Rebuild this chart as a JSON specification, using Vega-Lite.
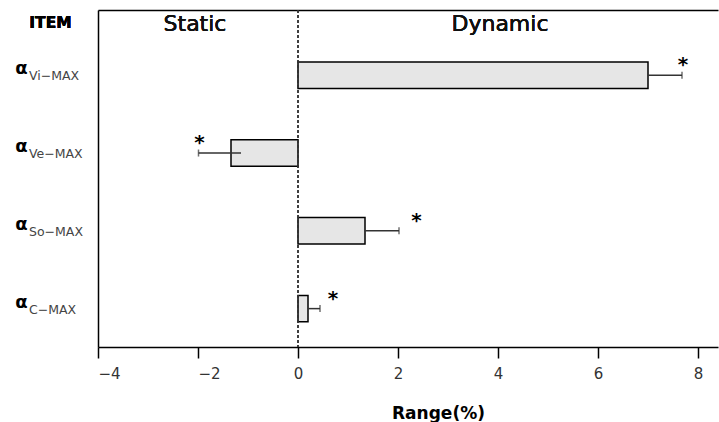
{
  "$schema": "https://vega.github.io/schema/vega-lite/v6.json",
  "width": 620,
  "height": 337,
  "autosize": {"type": "none"},
  "padding": {"left": 98, "top": 10, "right": 1, "bottom": 75},
  "background": "white",
  "config": {"view": {"stroke": null}, "font": "DejaVu Sans"},
  "data": {
    "values": [
      {"item": "Vi-MAX", "sym": "α", "sub": "Vi−MAX", "value": 7.0, "errStart": 7.0, "errEnd": 7.68, "star": 7.7},
      {"item": "Ve-MAX", "sym": "α", "sub": "Ve−MAX", "value": -1.34, "errStart": -1.14, "errEnd": -1.99, "star": -1.97},
      {"item": "So-MAX", "sym": "α", "sub": "So−MAX", "value": 1.34, "errStart": 1.34, "errEnd": 2.02, "star": 2.37},
      {"item": "C-MAX", "sym": "α", "sub": "C−MAX", "value": 0.2, "errStart": 0.2, "errEnd": 0.44, "star": 0.7}
    ]
  },
  "layer": [
    {
      "layer": [
        {
          "mark": {"type": "bar", "fill": "#e6e6e6", "stroke": "black", "strokeWidth": 1.5},
          "encoding": {
            "x": {
              "field": "value", "type": "quantitative",
              "scale": {"domain": [-4, 8.4], "nice": false, "zero": false},
              "axis": {
                "orient": "bottom",
                "values": [-4, -2, 0, 2, 4, 6, 8],
                "grid": false,
                "domainColor": "black", "domainWidth": 1.5,
                "tickColor": "black", "tickWidth": 1.5, "tickSize": 11,
                "labelFont": "DejaVu Sans", "labelFontSize": 15, "labelColor": "#333",
                "labelPadding": 8,
                "labelAlign": {"condition": {"test": "datum.value < 0", "value": "left"}, "value": "center"},
                "title": "Range(%)",
                "titleFont": "DejaVu Sans", "titleFontSize": 17, "titleFontWeight": "bold", "titleColor": "black",
                "titleX": 340, "titleY": 71, "titleAlign": "center", "titleBaseline": "alphabetic"
              }
            },
            "x2": {"datum": 0},
            "y": {
              "field": "item", "type": "nominal", "sort": null,
              "scale": {"paddingInner": 0.66, "paddingOuter": 0.496, "align": 0.674},
              "axis": {"labels": false, "ticks": false, "title": null, "grid": false, "domainColor": "black", "domainWidth": 1.5}
            }
          }
        },
        {
          "mark": {"type": "rule", "color": "#333", "strokeWidth": 1.5},
          "encoding": {
            "x": {"field": "errStart", "type": "quantitative"},
            "x2": {"field": "errEnd"},
            "y": {"field": "item", "type": "nominal", "sort": null}
          }
        },
        {
          "mark": {"type": "tick", "color": "#333", "thickness": 1.5, "size": 7, "orient": "vertical"},
          "encoding": {
            "x": {"field": "errEnd", "type": "quantitative"},
            "y": {"field": "item", "type": "nominal", "sort": null}
          }
        },
        {
          "mark": {"type": "text", "fontSize": 20, "fontWeight": "bold", "color": "black", "baseline": "middle", "align": "center", "dy": -10},
          "encoding": {
            "x": {"field": "star", "type": "quantitative"},
            "y": {"field": "item", "type": "nominal", "sort": null},
            "text": {"value": "*"}
          }
        },
        {
          "mark": {"type": "text", "fontSize": 18, "fontWeight": "bold", "color": "black", "baseline": "alphabetic", "align": "center", "dy": -1},
          "encoding": {
            "x": {"datum": -5.53, "type": "quantitative"},
            "y": {"field": "item", "type": "nominal", "sort": null},
            "text": {"field": "sym"}
          }
        },
        {
          "mark": {"type": "text", "fontSize": 12.5, "color": "#444", "baseline": "alphabetic", "align": "left", "dy": 5},
          "encoding": {
            "x": {"datum": -5.38, "type": "quantitative"},
            "y": {"field": "item", "type": "nominal", "sort": null},
            "text": {"field": "sub"}
          }
        },
        {
          "mark": {"type": "text", "fontSize": 15.5, "fontWeight": "bold", "color": "black", "baseline": "alphabetic", "align": "center", "dy": -47},
          "encoding": {
            "x": {"datum": -4.95, "type": "quantitative"},
            "y": {"datum": "Vi-MAX", "type": "nominal"},
            "text": {"value": "ITEM"}
          }
        },
        {
          "mark": {"type": "text", "fontSize": 22, "color": "#111", "baseline": "alphabetic", "align": "center", "dy": -44},
          "encoding": {
            "x": {"datum": -2.06, "type": "quantitative"},
            "y": {"datum": "Vi-MAX", "type": "nominal"},
            "text": {"value": "Static"}
          }
        },
        {
          "mark": {"type": "text", "fontSize": 22, "color": "#111", "baseline": "alphabetic", "align": "center", "dy": -44},
          "encoding": {
            "x": {"datum": 4.04, "type": "quantitative"},
            "y": {"datum": "Vi-MAX", "type": "nominal"},
            "text": {"value": "Dynamic"}
          }
        }
      ]
    },
    {
      "mark": {"type": "rule", "strokeDash": [3, 2], "color": "#333", "strokeWidth": 1},
      "encoding": {
        "x": {
          "datum": 0, "type": "quantitative",
          "axis": {"orient": "top", "labels": false, "ticks": false, "title": null, "grid": false, "domainColor": "black", "domainWidth": 1.5}
        }
      }
    }
  ],
  "resolve": {"axis": {"x": "independent"}}
}
